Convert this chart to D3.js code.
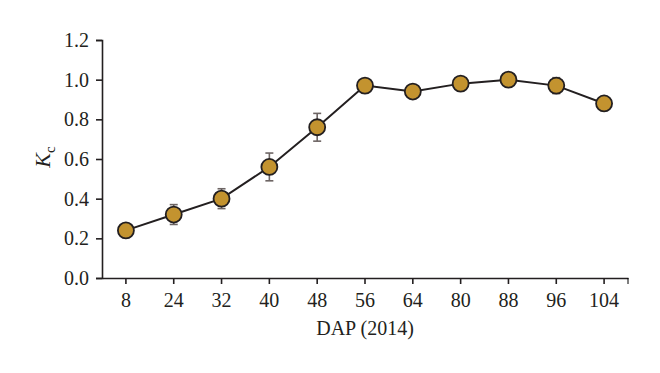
<!DOCTYPE html>
<html>
<head>
<meta charset="utf-8">
<script src="https://cdn.jsdelivr.net/npm/d3@7"></script>
<style>
  body { margin: 0; background: #fff; }
  text { font-family: "Liberation Serif", "DejaVu Serif", serif; fill: #231f20; }
</style>
</head>
<body>
<div id="chart"></div>
<script>
const days = ["8", "24", "32", "40", "48", "56", "64", "80", "88", "96", "104"];
const kc = [0.24, 0.32, 0.40, 0.56, 0.76, 0.97, 0.94, 0.98, 1.00, 0.97, 0.88];
const kcErr = [0.01, 0.05, 0.05, 0.07, 0.07, 0.01, 0.01, 0.01, 0.01, 0.04, 0.01];
const yTicks = [0, 0.2, 0.4, 0.6, 0.8, 1.0, 1.2];

const W = 660, H = 373;
const margin = {top: 40, right: 32, bottom: 95, left: 102};
const width = W - margin.left - margin.right,
      height = H - margin.top - margin.bottom;

const svg = d3.select("#chart").append("svg")
    .attr("width", W).attr("height", H);
const g = svg.append("g")
    .attr("transform", `translate(${margin.left},${margin.top})`);

const x = d3.scaleBand().domain(days).range([0, width]);
const y = d3.scaleLinear().domain([0, 1.2]).range([height, 0]);

// y axis
const yAxis = g.append("g")
    .call(d3.axisLeft(y).tickValues(yTicks).tickFormat(d3.format(".1f")).tickSize(6).tickPadding(7));
yAxis.selectAll("text").attr("font-size", null).style("font-size", "20px");

// x axis, ticks at band centres plus an end tick
const xAxis = g.append("g")
    .attr("transform", `translate(0,${height})`)
    .call(d3.axisBottom(x).tickSize(6).tickSizeOuter(0).tickPadding(9));
xAxis.selectAll("text").style("font-size", "20px");
xAxis.append("line").attr("x1", width).attr("x2", width).attr("y1", 0).attr("y2", 6)
    .attr("stroke", "currentColor");
svg.selectAll(".domain, .tick line").attr("stroke", "#231f20").attr("stroke-width", 1.6);
svg.selectAll(".tick text").attr("fill", "#231f20");

const cx = d => x(d) + x.bandwidth() / 2;

// error bars
const eb = g.selectAll(".err").data(days).enter().append("g").attr("class", "err")
    .attr("stroke", "#6d6564").attr("stroke-width", 1.6);
eb.append("line")
    .attr("x1", cx).attr("x2", cx)
    .attr("y1", (d, i) => y(kc[i] - kcErr[i])).attr("y2", (d, i) => y(kc[i] + kcErr[i]));
eb.append("line")
    .attr("x1", d => cx(d) - 4).attr("x2", d => cx(d) + 4)
    .attr("y1", (d, i) => y(kc[i] + kcErr[i])).attr("y2", (d, i) => y(kc[i] + kcErr[i]));
eb.append("line")
    .attr("x1", d => cx(d) - 4).attr("x2", d => cx(d) + 4)
    .attr("y1", (d, i) => y(kc[i] - kcErr[i])).attr("y2", (d, i) => y(kc[i] - kcErr[i]));

// line
const line = d3.line().x((d, i) => cx(days[i])).y(d => y(d));
g.append("path").datum(kc)
    .attr("d", line).attr("fill", "none")
    .attr("stroke", "#231f20").attr("stroke-width", 2);

// markers
g.selectAll(".dot").data(kc).enter().append("circle")
    .attr("class", "dot")
    .attr("cx", (d, i) => cx(days[i]))
    .attr("cy", d => y(d))
    .attr("r", 8)
    .attr("fill", "#c3932f")
    .attr("stroke", "#231f20").attr("stroke-width", 1.8);

// axis titles
svg.append("text")
    .attr("x", margin.left + width / 2).attr("y", 335)
    .attr("text-anchor", "middle").style("font-size", "20px")
    .text("DAP (2014)");

const yl = svg.append("text")
    .attr("transform", "translate(50,157) rotate(-90)")
    .attr("text-anchor", "middle").style("font-size", "22px");
yl.append("tspan").style("font-style", "italic").text("K");
yl.append("tspan").attr("dy", 5).style("font-size", "15px").text("c");
</script>
</body>
</html>
